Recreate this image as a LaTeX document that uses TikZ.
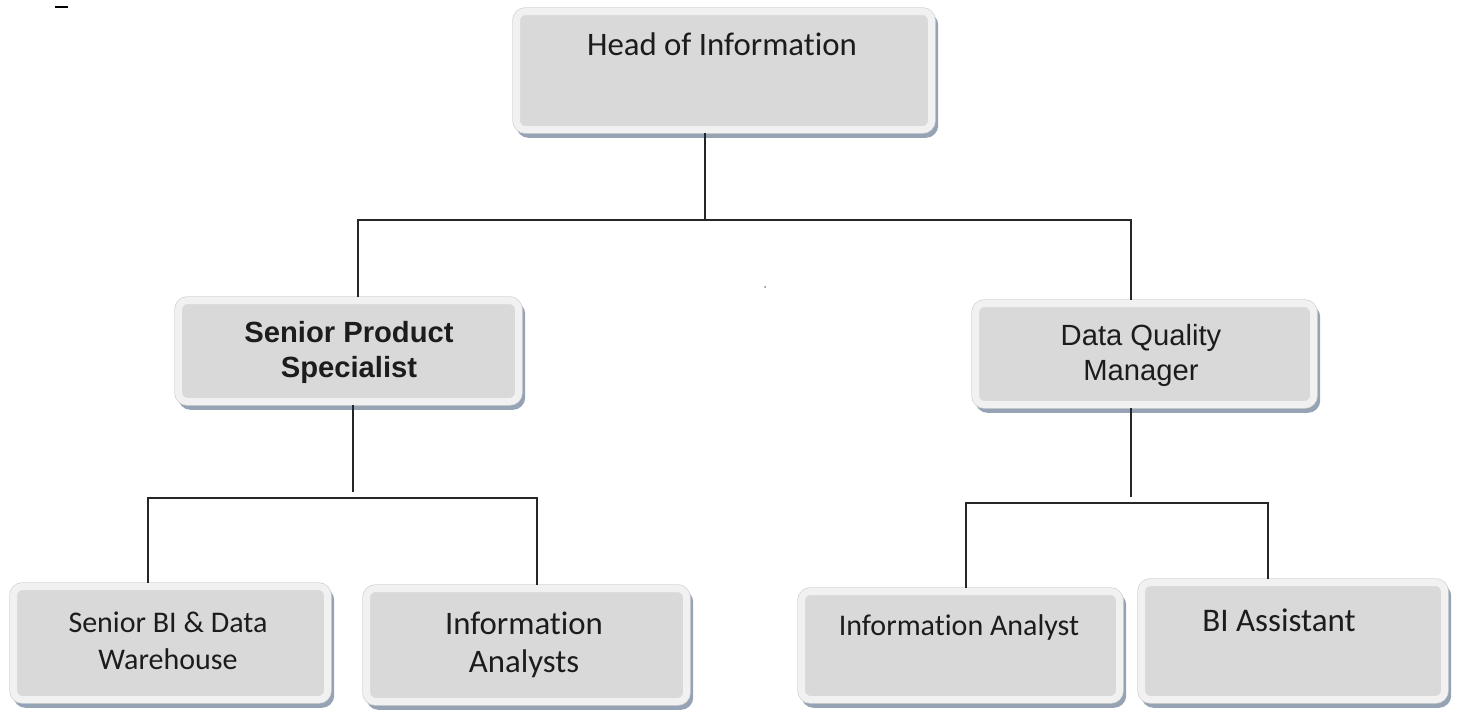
\documentclass[tikz,border=0pt]{standalone}
\usepackage{fontspec}
\setmainfont[Ligatures=NoCommon]{Carlito}
\newfontfamily\arialfont{Liberation Sans}
\definecolor{boxfill}{HTML}{D9D9D9}
\definecolor{boxrim}{HTML}{F1F1F1}
\definecolor{boxedge}{HTML}{D2D2D2}
\definecolor{boxshadow}{HTML}{95A3B5}
\definecolor{txt}{HTML}{1C1C1C}
\begin{document}
\begin{tikzpicture}[x=0.5pt,y=-0.5pt,
  orgbox/.style={rectangle, rounded corners=4.5pt, fill=boxfill, draw=boxrim, line width=3.5pt,
    preaction={draw=boxshadow, fill=boxshadow, line width=3.5pt, transform canvas={shift={(1.6pt,-2.4pt)}}},
    preaction={draw=boxedge, line width=4.2pt},
    inner sep=0pt},
  orgtext/.style={text=txt, align=center, inner sep=0pt},
  link/.style={line width=1pt, draw=black!85}]
\useasboundingbox (0,0) rectangle (1459,713);

% boxes
\node[orgbox, minimum width=207.5pt, minimum height=59pt] (head) at (724,70.5) {};
\node[orgbox, minimum width=170pt, minimum height=50.5pt] (sps) at (348.5,351) {};
\node[orgbox, minimum width=169pt, minimum height=50.5pt] (dqm) at (1144.5,354) {};
\node[orgbox, minimum width=157pt, minimum height=56.5pt] (sbi) at (170.5,643) {};
\node[orgbox, minimum width=160pt, minimum height=56.5pt] (ias) at (526.5,645) {};
\node[orgbox, minimum width=159pt, minimum height=54pt] (ia) at (960.5,645.5) {};
\node[orgbox, minimum width=151.5pt, minimum height=58.5pt] (bia) at (1293,641) {};

% texts
\node[orgtext, font=\fontsize{16.4}{20}\selectfont] (head-t) at (722,44) {Head of Information};
\node[orgtext, font=\arialfont\bfseries\fontsize{14.6}{17.5}\selectfont] (sps-t) at (349,352.5) {Senior Product\\Specialist};
\node[orgtext, font=\arialfont\fontsize{14.6}{17.5}\selectfont] (dqm-t) at (1141,355.5) {Data Quality\\Manager};
\node[orgtext, font=\fontsize{15}{18.5}\selectfont] (sbi-t) at (168,640.5) {Senior BI \& Data\\Warehouse};
\node[orgtext, font=\fontsize{16.4}{19}\selectfont] (ias-t) at (524,645) {Information\\Analysts};
\node[orgtext, font=\fontsize{15}{18}\selectfont] (ia-t) at (959,627) {Information Analyst};
\node[orgtext, font=\fontsize{16.5}{18}\selectfont] (bia-t) at (1279,620) {BI Assistant};

% junction coordinates
\coordinate (hj) at (705,220);
\coordinate (hl) at (358,220);
\coordinate (hr) at (1131,220);
\coordinate (sj) at (353,492);
\coordinate (sl) at (148,498);
\coordinate (sr) at (537,498);
\coordinate (dj) at (1131,497);
\coordinate (dl) at (966,503);
\coordinate (dr) at (1268,503);

% connectors
\draw[link] (head.south -| hj) -- (hj);
\draw[link] (sps.north -| hl) -- (hl) -- (hr) -- (dqm.north -| hr);
\draw[link] (sps.south -| sj) -- (sj);
\draw[link] (sbi.north -| sl) -- (sl) -- (sr) -- (ias.north -| sr);
\draw[link] (dqm.south -| dj) -- (dj);
\draw[link] (ia.north -| dl) -- (dl) -- (dr) -- (bia.north -| dr);

% small marks
\coordinate (m1) at (55,7);
\coordinate (m2) at (68,7);
\draw[line width=1pt] (m1) -- (m2);
\fill[black!50] (765,287) circle (0.5pt);
\end{tikzpicture}
\end{document}
